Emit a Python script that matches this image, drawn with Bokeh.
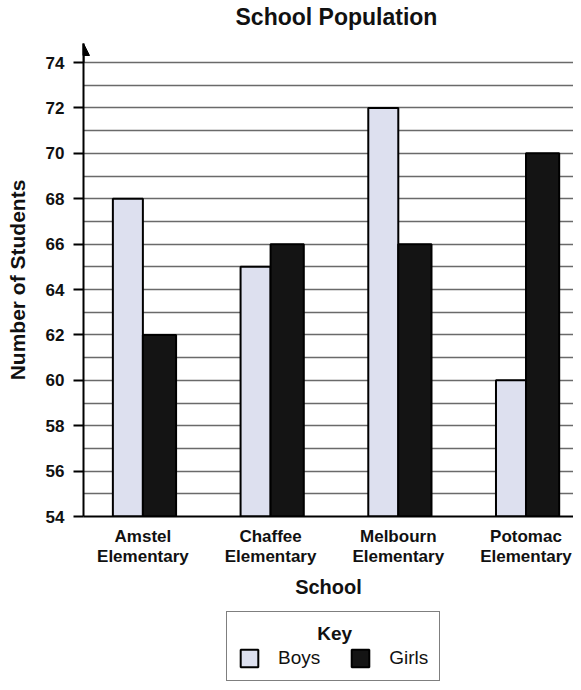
from bokeh.plotting import figure
from bokeh.layouts import column
from bokeh.models import FixedTicker, Legend, LegendItem, Arrow, NormalHead, Range1d, Label
from bokeh.embed import file_html
from bokeh.resources import INLINE

# ---- data ----
title_text = "School Population"
schools = ["Amstel Elementary", "Chaffee Elementary", "Melbourn Elementary", "Potomac Elementary"]
boys = [68, 65, 72, 60]
girls = [62, 66, 66, 70]
y_ticks = list(range(54, 75, 2))
grid_ticks = list(range(55, 75))
series_names = ["Boys", "Girls"]

FONT = "Liberation Sans"
TXT = "#111111"
Y0 = 54
X0 = 0.535
X1 = 4.372
pos = [i + 1 for i in range(len(schools))]
BOYS_COLOR = "#dde0ef"
GIRLS_COLOR = "#141414"
W = 573


def strip(height):
    f = figure(width=W, height=height, output_backend="svg", toolbar_location=None,
               title=None, x_axis_location=None, y_axis_location=None,
               x_range=Range1d(X0, X1), y_range=Range1d(Y0, 74.84),
               min_border=0, min_border_left=0, min_border_right=0,
               min_border_top=0, min_border_bottom=0,
               background_fill_color="white", border_fill_color="white")
    f.outline_line_color = None
    f.grid.visible = False
    return f


# ---- title strip ----
top = strip(36)
top.add_layout(Label(x=152, y=33, x_units="screen", y_units="screen", text=title_text,
                     text_font=FONT, text_font_size="23px", text_font_style="bold",
                     text_color=TXT, text_align="left", text_baseline="top"))

# ---- main chart ----
main = figure(width=W, height=574, output_backend="svg", toolbar_location=None,
              title=None, x_range=Range1d(X0, X1), y_range=Range1d(Y0, 74.84),
              min_border_left=83, min_border_right=0, min_border_top=7, min_border_bottom=94,
              background_fill_color="white", border_fill_color="white")
main.outline_line_color = None

bw_b = 0.235
bw_g = 0.26
main.vbar(x=[x - bw_b / 2 for x in pos], top=boys, bottom=Y0, width=bw_b,
          fill_color=BOYS_COLOR, line_color="black", line_width=2)
main.vbar(x=[x + bw_g / 2 for x in pos], top=girls, bottom=Y0, width=bw_g,
          fill_color=GIRLS_COLOR, line_color="black", line_width=2)

main.xgrid.visible = False
main.ygrid.ticker = FixedTicker(ticks=grid_ticks)
main.ygrid.grid_line_color = "#6a6a6a"
main.ygrid.grid_line_width = 1.5

ya = main.yaxis[0]
ya.ticker = FixedTicker(ticks=y_ticks, minor_ticks=[])
ya.axis_label = "Number of Students"
ya.axis_label_text_font = FONT
ya.axis_label_text_font_size = "21px"
ya.axis_label_text_font_style = "bold"
ya.axis_label_text_color = TXT
ya.axis_label_standoff = 14
ya.major_label_text_font = FONT
ya.major_label_text_font_size = "17px"
ya.major_label_text_font_style = "bold"
ya.major_label_text_color = TXT
ya.major_label_standoff = 9
ya.axis_line_width = 2
ya.axis_line_color = "black"
ya.major_tick_line_width = 2
ya.major_tick_line_color = "black"
ya.major_tick_out = 10
ya.major_tick_in = 0
ya.minor_tick_out = 0
ya.minor_tick_in = 0

xa = main.xaxis[0]
xa.ticker = FixedTicker(ticks=pos, minor_ticks=[])
xa.major_label_overrides = {x: s.replace(" ", "\n") for x, s in zip(pos, schools)}
xa.axis_label = "School"
xa.axis_label_text_font = FONT
xa.axis_label_text_font_size = "20px"
xa.axis_label_text_font_style = "bold"
xa.axis_label_text_color = TXT
xa.axis_label_standoff = 7
xa.major_label_text_font = FONT
xa.major_label_text_font_size = "17px"
xa.major_label_text_font_style = "bold"
xa.major_label_text_color = TXT
xa.major_label_text_line_height = 1.1
xa.major_label_standoff = 10
xa.axis_line_width = 2
xa.axis_line_color = "black"
xa.major_tick_out = 0
xa.major_tick_in = 0
xa.minor_tick_out = 0
xa.minor_tick_in = 0

main.add_layout(Arrow(x_start=X0, y_start=74, x_end=X0, y_end=74.84,
                      line_width=2, line_color="black",
                      end=NormalHead(size=12, fill_color="black", line_color="black")))

# ---- key strip ----
key = strip(72)
kb = key.vbar(x=pos, top=boys, bottom=Y0, width=0.2, fill_color=BOYS_COLOR,
              line_color="black", line_width=2, visible=False)
kg = key.vbar(x=pos, top=girls, bottom=Y0, width=0.2, fill_color=GIRLS_COLOR,
              line_color="black", line_width=2, visible=False)

legend = Legend(items=[LegendItem(label=series_names[0], renderers=[kb]),
                       LegendItem(label=series_names[1], renderers=[kg])],
                orientation="horizontal", location=(143, 1),
                title="\u00a0" * 15 + "Key")
legend.title_text_font = FONT
legend.title_text_font_size = "19px"
legend.title_text_font_style = "bold"
legend.title_text_color = TXT
legend.title_standoff = 2
legend.label_text_font = FONT
legend.label_text_font_size = "19px"
legend.label_text_color = TXT
legend.glyph_width = 22
legend.glyph_height = 22
legend.label_height = 22
legend.label_standoff = 18
legend.spacing = 29
legend.padding = 11
legend.margin = 0
legend.border_line_color = "black"
legend.border_line_width = 1.5
legend.background_fill_color = "white"
legend.background_fill_alpha = 1
legend.inactive_fill_alpha = 0
key.add_layout(legend, "center")

p = column(top, main, key, spacing=0)
open("out.html", "w").write(file_html(p, INLINE))
